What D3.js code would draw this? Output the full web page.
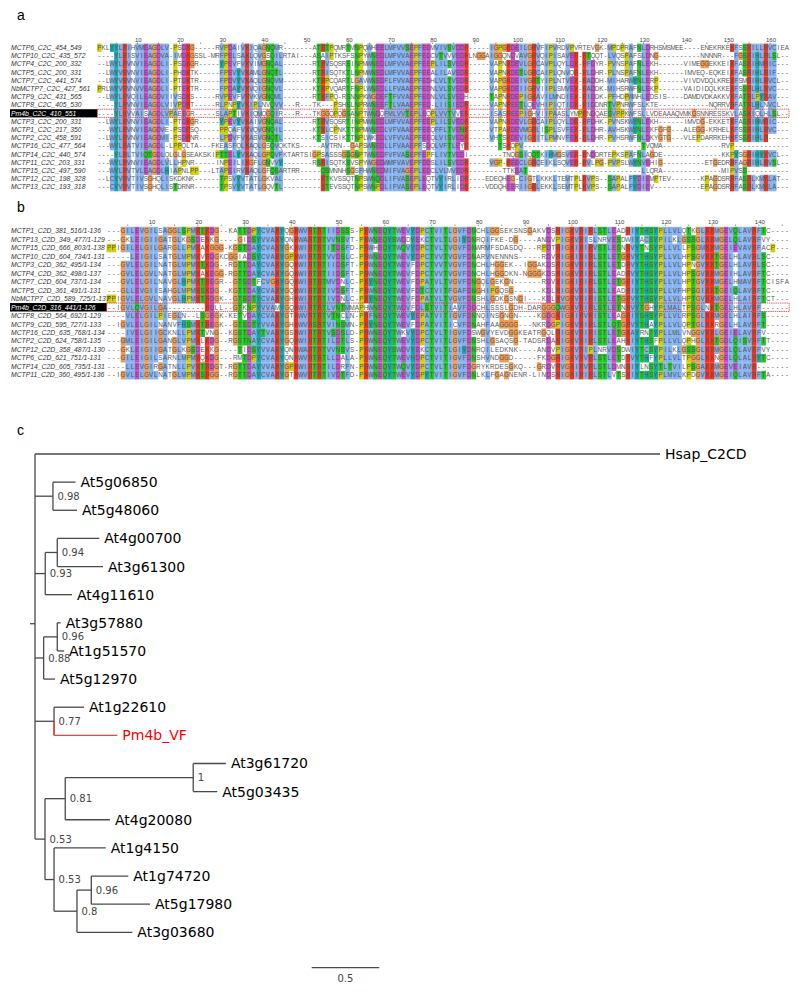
<!DOCTYPE html>
<html>
<head>
<meta charset="utf-8">
<script src="https://cdnjs.cloudflare.com/ajax/libs/d3/7.8.5/d3.min.js"></script>
<style>
  body { margin: 0; background: #fff; }
  svg { display: block; }
  text { font-family: "Liberation Sans", Arial, sans-serif; }
  .tree text { font-family: "DejaVu Sans", sans-serif; }
</style>
</head>
<body>
<div id="visual"></div>
<script>
// panel a : C2C alignment
var namesA = ["MCTP6_C2C_454_549","MCTP10_C2C_435_572","MCTP4_C2C_200_332","MCTP5_C2C_200_331","MCTP7_C2C_441_574","NbMCTP7_C2C_427_561","MCTP9_C2C_431_565","MCTP8_C2C_405_530","Pm4b_C2C_410_551","MCTP3_C2C_200_331","MCTP1_C2C_217_350","MCTP2_C2C_458_591","MCTP16_C2C_477_564","MCTP14_C2C_440_574","MCTP11_C2C_203_331","MCTP15_C2C_497_590","MCTP12_C2C_198_328","MCTP13_C2C_193_318"];
var seqsA = [
"PKLYYLRIHV MEAGDLV-PS DKG-----RV PDAIVKIQAG NQMR------ -ATRTPQMRT MNPQWHEELM FVVSEPFEDM VIVSVDDR-- ---IGPGRDE ILGRVFIPVR DVPVRTEVGK -MPDPRAFNL DRHSMSMEE- ---ENEKRKE KFSSKILLRV CIEA",
"----YLRISV IEAGDVA-IM DKGSSL-MRF PELSAKLQVG SQILRTAI-- -ASAIPTKSF SNPYWNEDLM FVVAEPFEDC VTVVVEDRLN GGAIGGQNDV AVGRVQIPIS AVER-RTQQT -LVQSPAFSL DNG------- ---NNNNR-- -FGSRIHLRL SL--",
"--LWYLRVNV IEAGDLI-PS DKGR-----Y PEVFVKVIMG NQAL------ -RTRVSQSRS INPMWNEDLM FVVAEPFEEP LILSVEDR-- ---VAPNKDE VLGRCAVPLQ YLDK-RFDYR -PVNSPAFNL EKH------V IMEGGEKKEI KFASKIHMRI C---",
"--LWYVRVNV IEAGDLI-PH DKTK-----F PEVYVKAMLG NQTL------ -RTRISQTKT LNPMWNEDLM FVVAEPFEEA LILAVEDR-- ---VAPNKDE TLGRCAIPLQ NVQR-RLDHR -PLNSPAFNL EKH------I MVEQ-EQKEI KFASRIHLRI F---",
"--LWYVRVNV IEAGDLI-PT DKTR-----F PDVYVKAQLG NQVM------ -KTRPCQART LGAVWNEDFL FVVAEPFEDH LVLTVEDR-- ---VAPGKDE IVGRTYIPLN TVEK-RADDH -MIHARWYNL ERP------V IVDVDQLKRE KFSMRIHLRV CL--",
"PRLWYVRVNV VEAGDLI-PT EKTR-----F PDAYVKVQIG NQVL------ -KTKPVQART FNPLWNEDLL FVAAEPFEDN LVLSVEDR-- ---VAPGKDE IIGRVIIPLS MVEK-RADDK -MIHSRWFNL EKP------V AIDIDQLKKE KFSSRLHLRV C---",
"--LWYLRVQI LEAGDVIIVS DKS-----RV PEVFVRVKVG NQML------ -RTKFPQ-RS NNPKWGDEFT FVVAEPFEDN LVLSVEDH-- ---TAPNRDE PIGKAVILMN DIEK-RIDDK -PFHDPWWHL EDSIS----D AMDVDKAKKV KFATRLPYKA V---",
"----YLRVNV IEAGDLVIVP DRT-----RL PNPYVKIPLN VQVV---R-- -TK---PSHS LNPRWNEEFT LVAAEPFED- LIISIEDR-- ---VAPNREE TLQEVHIPIQ TIDK-RIDDN RTVPNRWFSL KTE------- -----NQRRV RFATRLHLNV CL--",
"----YLKVVA ISAGDLVPAE EGR-----SL APTIVKIQMQ GQIR---R-- -TKGGQPQGS ANPTWNDQFM LVVTEPLEQP LVVTVVER-- ---ISASREE PIGHVIIPAA SLYMPRNDQA ESVPPKWFSL LVDEAAAQVM KGSNNRESSK VLASKIQLHL SL--",
"--LWYLRVNV IEAGDLI-PT DKGR-----Y PEVYVKAIVG NQAL------ -RTRVSQSRT INPMWNEDLM FVVAEPFEEP LILSVEDR-- ---VAPNKDE VLGRCAIPLQ YLDR-RFDHK -PVNSKWYNL EKH------I MVDG-EKKET KFASRIHMRI C---",
"---WYLRVNV IEAGDVE-PS DRSQ-----P PQAFVKVQVG NQIL------ -KTKLCPNKT TNPMWNEDLV FVAAEPFEEQ FFLTVENK-- ---VTPAKDE VMGRLISPLS VFEK-RLDHR -AVHSKWYNL EKFGFG---A LEGG-KRHEL KFSSRIHLRV C---",
"--LWYLRVNV IEAGDMI-PS DRNR-----L PDVFVKASVG NQTL------ -KTSICSIKT TNPLWKEDLV FVVAEPFEEQ LVISVEDR-- ---VHTSKDE VIGKITLPMN VFEK-RLDHR -PVHSRWFNL DKYGTG---V LEPDARRKEH KFSSRIHLR- ----",
"---WYLRATV IEAGDL-LPP QLTA---FKE ASFQLKAQLG SQVQKTKS-- ---AVTRN-- GAPSWNEDLL FVAAEPFSDQ LVFTLEYR-- -----TSKQP V--------- ---------- ---------T VQMA------ --------RV P--------- ----",
"----YLRLTV IQTGDLQLGL GSEAKSKIPT TELYVKAQLG PQVFKTARTS IGPSASSSGS GNPTWNEDFV FVASEPFEPF LIVTVEDI-- ------TNQG SIQQTKIHMG SVER-RNDDR TEPKSPAFNL AGDE------ --------KK PYSGRIHYKV CL--",
"---WYLRVNV IEAGDLVLLH PNR-----IN PEILIKGFLG NVVY------ -RSRISQTKS VSPYWGEDWM FVAVEPFDDS LILSVEDR-- ---VGP-REE CLGRCEIKLS QVER-RVLPG -PVPSLWYNV EHIG------ ----ETGEDR RFAGRIHLRV SL--",
"---WYLRVTV LEAGDLHIAP NLPP---LTA PEIRVKAQLG FQSARTRR-- ---QSMNNHS GSFHWNEDMI FVAGEPLEDC LVLMVEDR-- ------TTKE AT-------- ---------- ---------L LQRA------ --------MI PVSS------ ----",
"--LCYVRVTI VSGHQLISKD KNK------T PSVYVTATLG KVAL------ ---KTKVSSQ TNPSWNQDLI FVASEPLEQT VYIRLIDR-- --EDEQHEG- CIGTLKKKLT EMTPLKVPS- -SAPALFYDI EMPTEV---- ---KPAGDSR RFASRLKMKL AT--",
"---CYVRVTI VSGHQLISTD RNR------T PSVYVTATLG QVTL------ ---KTEVSSQ TNPSWNPDLI FVASEPLEQT VYIRLIDR-- --VDDQHEER IIGKLEKKLS EMTPLKVPS- -SAPALFYDI EV-------- ---EPAGDSR RFASRLKMKL A---"
];
var columnsA = 164;

// panel b : C2D alignment
var namesB = ["MCTP1_C2D_381_516/1-136","MCTP13_C2D_349_477/1-129","MCTP15_C2D_666_803/1-138","MCTP10_C2D_604_734/1-131","MCTP3_C2D_362_495/1-134","MCTP4_C2D_362_498/1-137","MCTP7_C2D_604_737/1-134","MCTP5_C2D_361_491/1-131","NbMCTP7_C2D_589_725/1-137","Pm4b_C2D_316_441/1-126","MCTP8_C2D_564_692/1-129","MCTP9_C2D_595_727/1-133","MCTP16_C2D_635_768/1-134","MCTP2_C2D_624_758/1-135","MCTP12_C2D_358_487/1-130","MCTP6_C2D_621_751/1-131","MCTP14_C2D_605_735/1-131","MCTP11_C2D_360_495/1-136"];
var seqsB = [
"---GILEVGI LSAGGLSPMK TKDG--KATT DPYCVAKYQG KWVRTRTIID SSS-PKWNEQ YTWEVYDPCT VITLGVFDNC HLGGSEKSNS GAKVDSRIGK VRIRLSTLEA DRIYTHSYPL LVLQTKGLKK MGEVQLAVRF TC----",
"---GKLEIGI IGATGLKGSD ERKG----GI DSYVVAKYQN KWARTRTVVN SVT-PKWNEQ YSWDDYEKCT VLTLGIYDNR QIFKE-DG-- --ANDVPIGK VRISLNRVES DWIYACSYPI LKLGSSGLKK MGELQLAVRF VY----",
"PPIGILELGI LGARGLLPMK AKGGG-KGST DAYCVAKYGK KWIRTRTITD SFD-PRWHEQ YTWQVYDPCT VLTVGVFDNW RMFSDASDQ- --RPDTRIGK IRIRVSTLES NKVYTNSYPL LVLLPSGMKK MGEIEVAVRF ACP---",
"-----LEIGI LSATGLMPMK VRDGKCGGIA DSYCVAKYGP KWIRTRTVVD SLC-PRWNEQ YTWEVYDPCT VVTVGVFDNA RVNENNNS-- ---RDVRIGK IRIRLSTLET GRVYTHSYPL LVLHPSGVKK TGELHLAVRL SC----",
"---GVLELGI LNATGLMPMK TKDG--RGTT DAYCVAKYGQ KWIRTRTIID SFT-PRWNEQ YTWEVFDPCT VVTVGVFDNC HLHGGEK--I GGAKDSRIGK VRIRLSTLET DRVYTHSYPL LVLHPNGVKK TGELHLAVRL SC----",
"---GVLELGV LNATGLMPMK AKEGG-RGTT DAYCVAKYGQ KWIRTRTIID SFT-PRWNEQ YTWEVFDPCT VVTVGVFDNC HLHGGDKN-N GGGKDSRIGK VRIRLSTLEA DRVYTHSYPL LVLHPSGVKK MGEIHLAVRF TC----",
"---GVLELGI LNAVGLHPMK TREGR--GTS DTFCVGKYGQ KWIRTRTMVD NLC-PKYNEQ YTWEVFDPAT VLTVGVFDNG QLGEKGN--- ---RDVKIGK IRIRLSTLET GRIYTHSYPL LVLHPTGVKK MGELHMAVRF TCISFA",
"---GLLEVGI ISAHGLMPMK SKDG--KGTT DAYCVAKYGQ KWIRTRTIVD SFT-PKWNEQ YTWEVFDTCT VITFGAFDNG HIPGQSG--- ---KDLRIGK VRIRLSTLEA DRIYTHSYPL LVFHPSGIKK TGEIQLAVRF TC----",
"PPIGVLELGV LNAVGLHPMK TRDGK--GTS DTYCVAKYGH KWIRTRTIVD NLC-PKYNEQ YTWEVFDPAT VLTVGVFDNS HLGDKGSNGI ---KDLKVGK VRIRISTLET GRVYTHSYPL LVLHPTGVKK MGELHLAIRF TCT---",
"--IGVLQVGI LGA------- -RDLL--GTK NPYVVAMYGQ KWIRTRTLVN TMMAPHWNEQ YTWDVFDLST VITIAVFDDC HLSSSLGDH- DARGGGQWGK VRIRLSTLET NRVYTGHYPL MALTPSGLNK TGELHLAVRF ------",
"----VLELGI LPIEGLN--L SGEGK-KETV DAYCVAKYGT KWVRTRTVTN CLN-PRFNEQ YTWEVYEPAT VITIGVFDNN QINSGNGN-- --KGDGKIGK IRVRISTLEA GRIYSHSYPL LVLRPSGLKK MGELHLAIRF S-----",
"--IGVLELGI LNANVFHSMK TREGK--GTS DTYVVAKYGH KWVRSRTVIN SMN-PKYNEQ YTWEVFDPAT VITICVFDNA HFAAGGGG-- -NKRDGPIGK VRIRLSTLQT GRVYTHAYPL LVLQPTGLKK RGELHLAVRF T-----",
"----IVELGI IGCKNLLPMK TVNG--KGST DAYTVAKYGS KWIRTRTVSD SLD-PRWNEQ YTWKVYDPCT VLTIGVFDSW GVYEVDGGKE ATRGQLRIGK VRIRISTLET GKAYRNTYPL LMLVNGGVKK LGEIELAVRF V-----",
"---GMLEIGI LGANGLVPMK LKDG--RGST NAYCVAKYGQ KWIRTRTILD TLS-PRWNEQ YTWEVYDPCT VITLGVFDNS HLGSAQSG-T ADSRDARIGK VRIRLSTLEA HKIYTHSFPL LVLQPHGLKK TGDLQISVRF TT----",
"---GKLEIGI IGATGLKGSD EKKG----TI DSYVVAKYQN KWARTRTVVN SVS-PKWNEQ YSWDVYEKCT VLTLGIYDNR QILEDKNK-- --ANDVPIGK VRIPLNRVDS DWIYTCSYPI LKLGSSGLKK MGELQLAVRF VY----",
"---GILEIGI LSARNLMPMK QKDG---RMT DPYCVAKYQN KWVRTRTLLD ALA-PKWNEQ YTWEVHDPCT VITIGVFDNS HVNDGGD--- --FKDGRIGK VRVRLSTLET DRVYTHFYPL LVLTPGGLKK NGELQLALRY TC----",
"----LLEVGI RGATNLLPVK TRDGT-RGTT DAYVVAKYGP KWIRTRTILD RFN-PRWNEQ YTWQVYDPCT VLTIGVFDGR YKRDESGKQ- --GRDVRVGK IRVRLSTLDM NRIYLNSYTL TVILPSGAKK MGEVEIAVR- ------",
"--IGVLELGV LNATGLMPMK SRGG--RGTT DAYCVAKYGT KWVRTRTIVD TFD-PKWNEQ YTWEVYDPYT VITIGVFDNL KLFGAGNENR -LINDSRIGK IRIRLSTLVT SKIYTHSYPL MVLKPDGVKK MGEIQLAVRF TA----"
];
var columnsB = 146;

// panel c : tree, lengths in substitutions/site
var tipNames = ["Hsap_C2CD","At5g06850","At5g48060","At4g00700","At3g61300","At4g11610","At3g57880","At1g51570","At5g12970","At1g22610","Pm4b_VF","At3g61720","At5g03435","At4g20080","At1g4150","At1g74720","At5g17980","At3g03680"];
var nodeIds = ["root","Hsap_C2CD","n1","At5g06850","At5g48060","n2","n3","At4g00700","At3g61300","At4g11610","n4","n5","At3g57880","At1g51570","At5g12970","n6","At1g22610","Pm4b_VF","n7","n8","n9","At3g61720","At5g03435","At4g20080","n10","At1g4150","n11","n12","At1g74720","At5g17980","At3g03680"];
var nodeParents = ["","root","root","n1","n1","root","n2","n3","n3","n2","root","n4","n5","n5","n4","root","n6","n6","root","n7","n8","n9","n9","n8","n7","n10","n10","n11","n12","n12","n11"];
var nodeLengths = [0,4.63,0.133,0.167,0.178,0.076,0.089,0.311,0.339,0.198,0.064,0.101,0.025,0.05,0.084,0.141,0.222,0.469,0.074,0.15,0.948,0.242,0.178,0.331,0.067,0.383,0.17,0.106,0.274,0.435,0.41];
var nodeSupports = ["","","0.98","","","0.93","0.94","","","","0.88","0.96","","","","0.77","","","0.53","0.81","1","","","","0.53","","0.8","0.96","","",""];
var scaleBarValue = 0.5;

var width = 800, height = 994;

var svg = d3.select("#visual").append("svg")
  .attr("width", width)
  .attr("height", height);

// Clustal X style colours, a bit lighter than the stock ones to match the scan
var clustal = {
  hydro: "#84b2f2", basic: "#f4301a", polar: "#1fc81f", acid: "#cc4ccc",
  gly: "#f09a50", pro: "#d2d000", arom: "#15a8a8"
};

function residueColor(r, col) {
  function pct(set) {
    var n = 0;
    set.split("").forEach(function(c) { n += col[c] || 0; });
    return 100 * n / col.total;
  }
  var hyd = pct("WLVIMAFCHP") > 60;
  var kr = pct("KR") > 60;
  if ("AILMFWVC".indexOf(r) >= 0) return hyd ? clustal.hydro : null;
  if (r == "K" || r == "R") return (kr || pct("K") >= 80 || pct("R") >= 80 || pct("Q") >= 80) ? clustal.basic : null;
  if (r == "N") return (pct("N") > 50 || pct("ND") >= 85) ? clustal.polar : null;
  if (r == "Q") return (kr || pct("QE") > 50 || pct("QEKR") >= 85) ? clustal.polar : null;
  if (r == "S" || r == "T") return (hyd || pct("TS") > 50 || pct("ST") >= 85) ? clustal.polar : null;
  if (r == "E") return (kr || pct("QE") > 50 || pct("ED") > 50 || pct("EQD") >= 85) ? clustal.acid : null;
  if (r == "D") return (kr || pct("ED") > 50 || pct("N") > 50) ? clustal.acid : null;
  if (r == "G") return clustal.gly;
  if (r == "P") return clustal.pro;
  if (r == "H" || r == "Y") return (hyd || pct("WYACPQFHILMV") >= 85) ? clustal.arom : null;
  return null;
}

function drawAlignment(opt) {
  var rows = opt.seqs.map(function(s) {
    return s.replace(/ /g, "").padEnd(opt.columns, "-").slice(0, opt.columns);
  });
  var columns = d3.range(1, opt.columns + 1);

  var x = d3.scaleBand().domain(columns).range([opt.left, opt.right]);
  var y = d3.scaleBand().domain(opt.names).range([opt.top, opt.bottom]);

  // residue counts of each column
  var counts = columns.map(function(c) {
    var col = { total: rows.length };
    rows.forEach(function(r) { col[r[c - 1]] = (col[r[c - 1]] || 0) + 1; });
    return col;
  });

  var cells = [];
  rows.forEach(function(r, i) {
    r.split("").forEach(function(ch, j) {
      cells.push({ name: opt.names[i], col: j + 1, res: ch, color: residueColor(ch, counts[j]) });
    });
  });

  var g = svg.append("g");

  g.selectAll("rect.cell")
    .data(cells.filter(function(d) { return d.color; }))
    .enter().append("rect")
    .attr("class", "cell")
    .attr("x", function(d) { return x(d.col); })
    .attr("y", function(d) { return y(d.name); })
    .attr("width", x.bandwidth() + 0.1)
    .attr("height", y.bandwidth() + 0.1)
    .attr("fill", function(d) { return d.color; });

  g.selectAll("text.res")
    .data(cells)
    .enter().append("text")
    .attr("class", "res")
    .attr("x", function(d) { return x(d.col) + x.bandwidth() / 2; })
    .attr("y", function(d) { return y(d.name) + y.bandwidth() / 2 + 2.3; })
    .attr("text-anchor", "middle")
    .attr("font-size", 6.3)
    .attr("fill", "#555")
    .text(function(d) { return d.res; });

  // sequence names, the query one is white on black
  g.append("rect")
    .attr("x", 10)
    .attr("y", y(opt.query))
    .attr("width", opt.left - 10)
    .attr("height", y.bandwidth())
    .attr("fill", "#000");

  g.selectAll("text.name")
    .data(opt.names)
    .enter().append("text")
    .attr("class", "name")
    .attr("x", 11)
    .attr("y", function(d) { return y(d) + y.bandwidth() / 2 + 2.3; })
    .attr("font-size", 6.8)
    .attr("font-style", "italic")
    .attr("fill", function(d) { return d == opt.query ? "#fff" : "#333"; })
    .text(function(d) { return d; });

  // red box round the query row
  g.append("rect")
    .attr("x", opt.left)
    .attr("y", y(opt.query))
    .attr("width", opt.right - opt.left)
    .attr("height", y.bandwidth())
    .attr("fill", "none")
    .attr("stroke", "#d8232a")
    .attr("stroke-width", 0.7)
    .attr("stroke-dasharray", "1.5,0.7");

  // ruler above the alignment
  var axis = d3.axisTop(x)
    .tickValues(columns.filter(function(c) { return c % 5 == 0; }))
    .tickSize(1.5)
    .tickPadding(1)
    .tickFormat(function(c) { return c % 10 == 0 ? c : ""; });

  var ruler = g.append("g")
    .attr("transform", "translate(0," + opt.axisY + ")")
    .call(axis);
  ruler.select(".domain").remove();
  ruler.selectAll("line").attr("stroke", "#555").attr("stroke-width", 0.6);
  ruler.selectAll("text")
    .attr("font-size", 6)
    .attr("font-family", "Liberation Sans, Arial, sans-serif")
    .attr("fill", "#444")
    .attr("dx", 1);
}

drawAlignment({
  seqs: seqsA, names: namesA, columns: columnsA, query: "Pm4b_C2C_410_551",
  left: 97.3, right: 789, top: 43.6, bottom: 191.2, axisY: 44
});
drawAlignment({
  seqs: seqsB, names: namesB, columns: columnsB, query: "Pm4b_C2D_316_441/1-126",
  left: 106.7, right: 789.2, top: 226.8, bottom: 379.3, axisY: 226
});

// panel letters
svg.append("g").selectAll("text")
  .data([["a", 20], ["b", 212], ["c", 435]])
  .enter().append("text")
  .attr("x", 17)
  .attr("y", function(d) { return d[1]; })
  .attr("font-size", 14)
  .attr("fill", "#000")
  .text(function(d) { return d[0]; });

// tree
var treeRows = nodeIds.map(function(id, i) {
  return { id: id, parent: nodeParents[i], length: nodeLengths[i], support: nodeSupports[i] };
});
var root = d3.stratify()
  .id(function(d) { return d.id; })
  .parentId(function(d) { return d.parent || null; })(treeRows);

var treeX = d3.scaleLinear().domain([0, 0.5]).range([35, 102.5]);
var treeY = d3.scalePoint().domain(tipNames).range([454, 932.3]);

root.eachBefore(function(n) {
  n.dist = n.parent ? n.parent.dist + n.data.length : 0;
});
// node sits at the mean height of its children
root.eachAfter(function(n) {
  n.yPos = n.children ? d3.mean(n.children, function(c) { return c.yPos; }) : treeY(n.id);
});

var tree = svg.append("g").attr("class", "tree");
var branchColor = "#4a4a4a", queryColor = "#f5403c", branchWidth = 1.3;
var isQuery = function(n) { return n.id == "Pm4b_VF"; };

// vertical connectors
tree.selectAll("line.v")
  .data(root.descendants().filter(function(n) { return n.children; }))
  .enter().append("line")
  .attr("class", "v")
  .attr("x1", function(n) { return treeX(n.dist); })
  .attr("x2", function(n) { return treeX(n.dist); })
  .attr("y1", function(n) { return d3.min(n.children, function(c) { return c.yPos; }); })
  .attr("y2", function(n) { return d3.max(n.children, function(c) { return c.yPos; }); })
  .attr("stroke", branchColor)
  .attr("stroke-width", branchWidth);

// the lower half of the connector above Pm4b_VF is red too
tree.selectAll("line.vq")
  .data(root.leaves().filter(isQuery))
  .enter().append("line")
  .attr("class", "vq")
  .attr("x1", function(n) { return treeX(n.parent.dist); })
  .attr("x2", function(n) { return treeX(n.parent.dist); })
  .attr("y1", function(n) { return n.parent.yPos; })
  .attr("y2", function(n) { return n.yPos; })
  .attr("stroke", queryColor)
  .attr("stroke-width", branchWidth);

// horizontal branches
tree.selectAll("line.h")
  .data(root.descendants().filter(function(n) { return n.parent; }))
  .enter().append("line")
  .attr("class", "h")
  .attr("x1", function(n) { return treeX(n.parent.dist); })
  .attr("x2", function(n) { return treeX(n.dist); })
  .attr("y1", function(n) { return n.yPos; })
  .attr("y2", function(n) { return n.yPos; })
  .attr("stroke", function(n) { return isQuery(n) ? queryColor : branchColor; })
  .attr("stroke-width", branchWidth);

// the little root stub
tree.append("line")
  .attr("x1", treeX(0) - 5)
  .attr("x2", treeX(0))
  .attr("y1", root.yPos)
  .attr("y2", root.yPos)
  .attr("stroke", branchColor)
  .attr("stroke-width", branchWidth);

// tip labels
tree.selectAll("text.tip")
  .data(root.leaves())
  .enter().append("text")
  .attr("class", "tip")
  .attr("x", function(n) { return treeX(n.dist) + 5; })
  .attr("y", function(n) { return n.yPos + 5; })
  .attr("font-size", 14)
  .attr("fill", function(n) { return isQuery(n) ? "#f00" : "#000"; })
  .text(function(n) { return n.id; });

// support values
tree.selectAll("text.support")
  .data(root.descendants().filter(function(n) { return n.data.support; }))
  .enter().append("text")
  .attr("class", "support")
  .attr("x", function(n) { return treeX(n.dist) + 4.5; })
  .attr("y", function(n) { return n.yPos + 3.6; })
  .attr("font-size", 10)
  .attr("fill", "#444")
  .text(function(n) { return n.data.support; });

// scale bar
var barLeft = 311.7;
var barWidth = treeX(scaleBarValue) - treeX(0);
tree.append("line")
  .attr("x1", barLeft)
  .attr("x2", barLeft + barWidth)
  .attr("y1", 967.7)
  .attr("y2", 967.7)
  .attr("stroke", branchColor)
  .attr("stroke-width", branchWidth);
tree.append("text")
  .attr("x", barLeft + barWidth / 2)
  .attr("y", 982.3)
  .attr("text-anchor", "middle")
  .attr("font-size", 10)
  .attr("fill", "#444")
  .text(scaleBarValue);
</script>
</body>
</html>
